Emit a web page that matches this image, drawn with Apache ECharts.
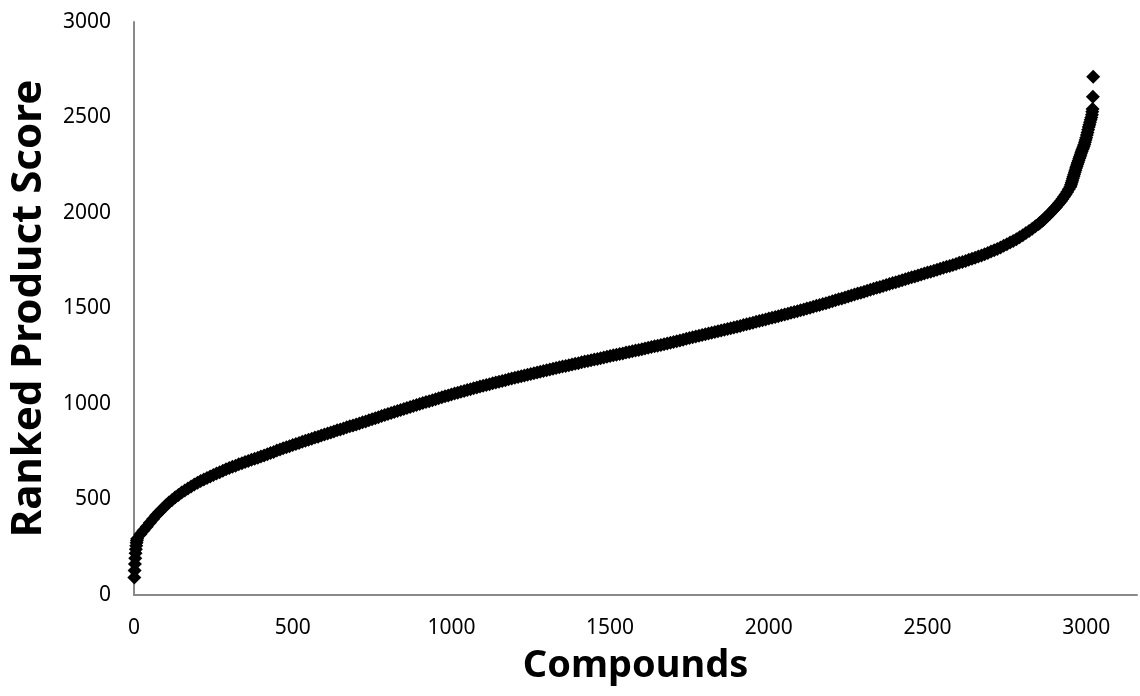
<!DOCTYPE html>
<html>
<head>
<meta charset="utf-8">
<script src="https://cdn.jsdelivr.net/npm/echarts@6/dist/echarts.min.js"></script>
<style>
html,body{margin:0;padding:0;background:#fff;}
#chart{width:1140px;height:696px;}
</style>
</head>
<body>
<div id="chart"></div>
<script>
// Compound ranks (x) and ranked product scores (y)
const startRanks = [1,2,3,4,5,6,7,8,9];
const startScores = [92,128,162,192,218,240,258,273,285];

const mainRanks = [
10,20,30,40,50,60,70,80,90,100,110,120,130,140,150,160,170,180,190,200,
210,220,230,240,250,260,270,280,290,300,310,320,330,340,350,360,370,380,390,400,
410,420,430,440,450,460,470,480,490,500,510,520,530,540,550,560,570,580,590,600,
610,620,630,640,650,660,670,680,690,700,710,720,730,740,750,760,770,780,790,800,
810,820,830,840,850,860,870,880,890,900,910,920,930,940,950,960,970,980,990,1000,
1010,1020,1030,1040,1050,1060,1070,1080,1090,1100,1110,1120,1130,1140,1150,1160,1170,1180,1190,1200,
1210,1220,1230,1240,1250,1260,1270,1280,1290,1300,1310,1320,1330,1340,1350,1360,1370,1380,1390,1400,
1410,1420,1430,1440,1450,1460,1470,1480,1490,1500,1510,1520,1530,1540,1550,1560,1570,1580,1590,1600,
1610,1620,1630,1640,1650,1660,1670,1680,1690,1700,1710,1720,1730,1740,1750,1760,1770,1780,1790,1800,
1810,1820,1830,1840,1850,1860,1870,1880,1890,1900,1910,1920,1930,1940,1950,1960,1970,1980,1990,2000,
2010,2020,2030,2040,2050,2060,2070,2080,2090,2100,2110,2120,2130,2140,2150,2160,2170,2180,2190,2200,
2210,2220,2230,2240,2250,2260,2270,2280,2290,2300,2310,2320,2330,2340,2350,2360,2370,2380,2390,2400,
2410,2420,2430,2440,2450,2460,2470,2480,2490,2500,2510,2520,2530,2540,2550,2560,2570,2580,2590,2600,
2610,2620,2630,2640,2650,2660,2670,2680,2690,2700,2710,2720,2730,2740,2750,2760,2770,2780,2790,2800,
2810,2820,2830,2840,2850,2855,2860,2865,2870,2875,2880,2885,2890,2895,2900,2905,2910,2915,2920,2925,
2930,2935,2940,2945,2950
];
const mainScores = [
295,318,338,357,378,398,417,435,452,468,484,498,512,524,536,547,558,568,578,588,
597,605,613,621,628,636,643,651,658,665,671,677,684,690,696,702,708,714,719,725,
731,737,743,749,756,762,768,773,779,785,791,796,802,807,813,818,824,829,835,840,
846,851,856,862,867,872,878,883,888,893,898,904,909,915,920,926,931,937,942,947,
953,958,963,968,974,979,984,989,995,1000,1005,1010,1015,1020,1025,1030,1035,1040,1045,1050,
1055,1059,1064,1068,1073,1077,1082,1086,1091,1095,1099,1104,1108,1112,1116,1121,1125,1129,1133,1137,
1141,1145,1149,1153,1157,1161,1165,1169,1173,1177,1181,1184,1188,1192,1196,1199,1203,1207,1211,1214,
1218,1222,1225,1229,1233,1236,1240,1244,1247,1251,1255,1258,1262,1265,1269,1272,1276,1280,1283,1287,
1291,1294,1298,1302,1305,1309,1313,1317,1321,1325,1329,1333,1337,1341,1345,1349,1353,1357,1361,1365,
1369,1373,1377,1381,1385,1389,1393,1397,1401,1405,1409,1413,1418,1422,1426,1430,1435,1439,1443,1448,
1452,1456,1460,1465,1469,1473,1478,1482,1486,1491,1495,1500,1504,1509,1514,1518,1523,1528,1533,1538,
1543,1548,1553,1558,1563,1568,1573,1578,1583,1588,1593,1598,1603,1608,1613,1618,1623,1628,1633,1638,
1643,1648,1653,1658,1663,1668,1673,1678,1683,1688,1693,1698,1703,1708,1713,1718,1723,1728,1733,1739,
1744,1749,1755,1760,1766,1772,1778,1784,1791,1798,1805,1812,1820,1828,1836,1845,1854,1863,1873,1883,
1895,1906,1918,1930,1943,1950,1957,1964,1972,1980,1988,1996,2005,2014,2023,2032,2042,2052,2062,2073,
2085,2097,2110,2124,2138
];

const endRanks = [2952,2954,2956,2958,2960,2962,2964,2966,2968,2970,2972,2974,2976,2978,2980,2982,2984,2986,2988,2990,
2992,2994,2996,2998,3000,3002,3004,3006,3008,3010,3012,3014,3016,3018,3019,3020,3021,3022];
const endScores = [2148,2158,2169,2180,2191,2202,2213,2224,2235,2245,2255,2265,2275,2285,2295,2304,2314,2323,2332,2340,
2349,2359,2370,2382,2394,2408,2422,2436,2450,2462,2475,2488,2500,2515,2530,2545,2609,2714];

const xTicks = [0,500,1000,1500,2000,2500,3000];
const yTicks = [0,500,1000,1500,2000,2500,3000];
const xTitle = 'Compounds';
const yTitle = 'Ranked Product Score';

const ranks = startRanks.concat(mainRanks, endRanks);
const scores = startScores.concat(mainScores, endScores);
const points = ranks.map((r, i) => [r, scores[i]]);

const chart = echarts.init(document.getElementById('chart'), null, {renderer: 'canvas'});
const axisColor = '#898989';
chart.setOption({
  animation: false,
  backgroundColor: '#ffffff',
  grid: {left: 134, right: 0, top: 22, bottom: 101, containLabel: false},
  xAxis: {
    type: 'value', min: 0, max: 3160, interval: 500,
    axisLine: {show: true, onZero: false, lineStyle: {color: axisColor, width: 2}},
    axisTick: {show: false},
    splitLine: {show: false},
    axisLabel: {
      margin: 23, color: '#000', fontFamily: 'Noto Sans', fontSize: 21,
      formatter: v => (xTicks.indexOf(v) >= 0 ? String(v) : '')
    },
    name: xTitle, nameLocation: 'middle', nameGap: 52,
    nameTextStyle: {fontFamily: 'Noto Sans', fontWeight: 'bold', fontSize: 38, color: '#000'}
  },
  yAxis: {
    type: 'value', min: 0, max: 3000, interval: 500,
    axisLine: {show: true, onZero: false, lineStyle: {color: axisColor, width: 2}},
    axisTick: {show: false},
    splitLine: {show: false},
    axisLabel: {
      margin: 23, color: '#000', fontFamily: 'Noto Sans', fontSize: 21,
      formatter: v => (yTicks.indexOf(v) >= 0 ? String(v) : '')
    },
    name: yTitle, nameLocation: 'middle', nameGap: 84, nameRotate: 90,
    nameTextStyle: {fontFamily: 'Noto Sans', fontWeight: 'bold', fontSize: 42, color: '#000'}
  },
  series: [{
    type: 'scatter',
    data: points,
    symbol: 'diamond',
    symbolSize: 14,
    itemStyle: {color: '#000000', opacity: 1},
    emphasis: {disabled: true}
  }]
});
</script>
</body>
</html>
